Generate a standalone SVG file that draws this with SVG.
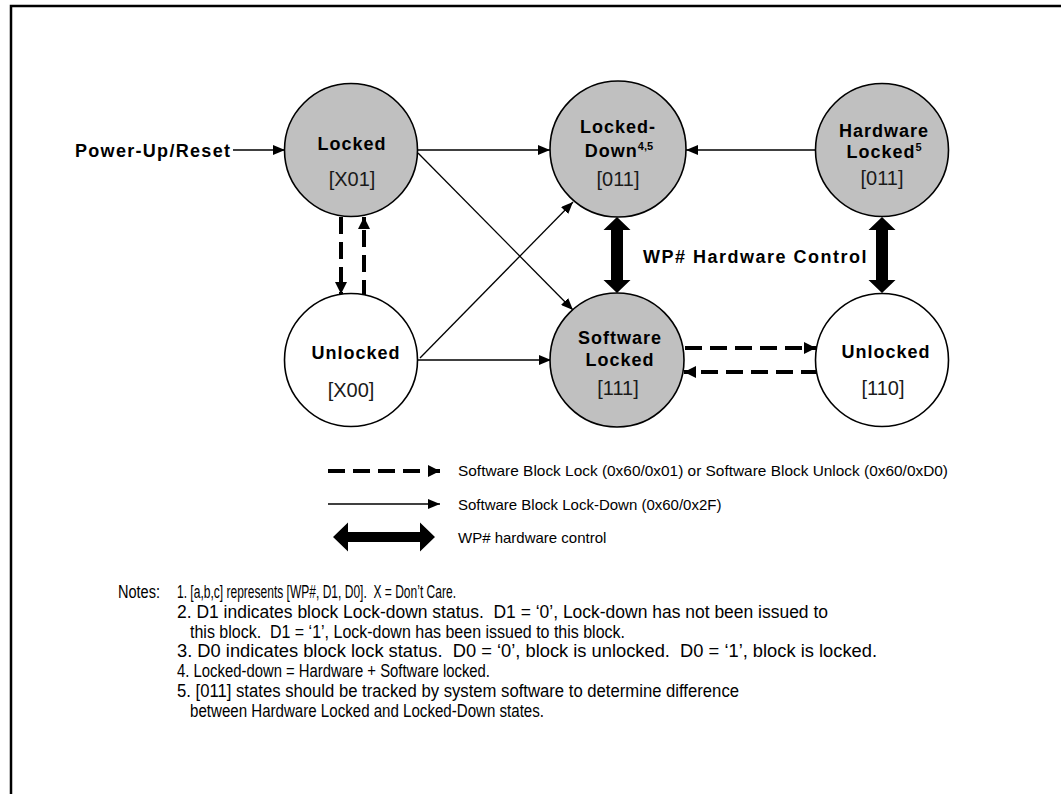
<svg xmlns="http://www.w3.org/2000/svg" width="1061" height="794" viewBox="0 0 1061 794">
<defs>
<style>
.node{stroke:#000;stroke-width:1.6}
.gray{fill:#c0c0c0}
.white{fill:#fff}
.b{font-family:"Liberation Sans",Arial,sans-serif;font-weight:bold;font-size:18px;letter-spacing:1px;fill:#000}
.r{font-family:"Liberation Sans",Arial,sans-serif;font-size:20px;fill:#1a1a1a}
.sup{font-size:11px;letter-spacing:0}
.thin{stroke:#000;stroke-width:1.3;fill:none}
.dash{stroke:#000;stroke-width:4;fill:none;stroke-dasharray:17 8}
.lg{font-family:"Liberation Sans",Arial,sans-serif;font-size:15px;fill:#000}
.nt{font-family:"Liberation Sans",Arial,sans-serif;font-size:17.5px;fill:#000;white-space:pre}
</style>
<marker id="ah" viewBox="0 0 12 10" refX="12" refY="5" markerWidth="12" markerHeight="10" markerUnits="userSpaceOnUse" orient="auto">
<path d="M0,0 L12,5 L0,10 Z" fill="#000"/>
</marker>
<marker id="ahd" viewBox="0 0 12 12" refX="12" refY="6" markerWidth="12" markerHeight="12" markerUnits="userSpaceOnUse" orient="auto">
<path d="M0,0 L12,6 L0,12 Z" fill="#000"/>
</marker>
</defs>
<rect width="1061" height="794" fill="#fff"/>
<path d="M11,794 L11,6 L1061,6" fill="none" stroke="#000" stroke-width="2.5"/>

<g id="connectors">
<line class="thin" x1="233" y1="150" x2="285" y2="150" marker-end="url(#ah)"/>
<line class="thin" x1="418" y1="150" x2="550" y2="150" marker-end="url(#ah)"/>
<line class="thin" x1="418" y1="153" x2="573" y2="310" marker-end="url(#ah)"/>
<line class="thin" x1="420" y1="358" x2="573" y2="202" marker-end="url(#ah)"/>
<line class="thin" x1="418" y1="360" x2="551" y2="360" marker-end="url(#ah)"/>
<line class="thin" x1="816" y1="150" x2="686" y2="150" marker-end="url(#ah)"/>
<line class="dash" x1="341" y1="217" x2="341" y2="294" marker-end="url(#ahd)"/>
<line class="dash" x1="364" y1="297" x2="364" y2="217" marker-end="url(#ahd)"/>
<line class="dash" x1="685" y1="348" x2="816" y2="348" marker-end="url(#ahd)"/>
<line class="dash" x1="818" y1="372" x2="684" y2="372" marker-end="url(#ahd)"/>
<polygon points="617,217 630.5,230 623,230 623,280 630.5,280 617,293 603.5,280 611,280 611,230 603.5,230" fill="#000"/>
<polygon points="882,217 895.5,230 888,230 888,280 895.5,280 882,293 868.5,280 876,280 876,230 868.5,230" fill="#000"/>
</g>

<text class="b" x="75" y="157" style="letter-spacing:1.3px">Power-Up/Reset</text>
<text class="b" x="643" y="263" style="letter-spacing:1.5px">WP# Hardware Control</text>

<g id="locked">
<circle class="node gray" cx="351" cy="150" r="66.5"/>
<text class="b" x="352" y="150" text-anchor="middle">Locked</text>
<text class="r" x="352" y="186" text-anchor="middle">[X01]</text>
</g>
<g id="unlocked-x00">
<circle class="node white" cx="351" cy="360" r="66.5"/>
<text class="b" x="356" y="359" text-anchor="middle">Unlocked</text>
<text class="r" x="351" y="397" text-anchor="middle">[X00]</text>
</g>
<g id="locked-down">
<circle class="node gray" cx="618" cy="149" r="68"/>
<text class="b" x="618" y="133" text-anchor="middle">Locked-</text>
<text class="b" x="619" y="157" text-anchor="middle">Down<tspan class="sup" dy="-7">4,5</tspan></text>
<text class="r" x="618" y="186" text-anchor="middle">[011]</text>
</g>
<g id="software-locked">
<circle class="node gray" cx="617" cy="360" r="67"/>
<text class="b" x="620" y="344" text-anchor="middle">Software</text>
<text class="b" x="620" y="366" text-anchor="middle">Locked</text>
<text class="r" x="618" y="395" text-anchor="middle">[111]</text>
</g>
<g id="hardware-locked">
<circle class="node gray" cx="882" cy="150" r="66.5"/>
<text class="b" x="884" y="137" text-anchor="middle">Hardware</text>
<text class="b" x="884" y="158" text-anchor="middle">Locked<tspan class="sup" dy="-7">5</tspan></text>
<text class="r" x="882" y="185" text-anchor="middle">[011]</text>
</g>
<g id="unlocked-110">
<circle class="node white" cx="882" cy="360" r="66.5"/>
<text class="b" x="886" y="358" text-anchor="middle">Unlocked</text>
<text class="r" x="883" y="395" text-anchor="middle">[110]</text>
</g>

<g id="legend">
<line class="dash" x1="328" y1="471" x2="440" y2="471" marker-end="url(#ahd)"/>
<line class="thin" x1="328" y1="504" x2="440" y2="504" marker-end="url(#ah)"/>
<polygon points="333,537 348,522.5 348,532 420,532 420,522.5 435,537 420,551.5 420,542 348,542 348,551.5" fill="#000"/>
<text class="lg" x="458" y="476" textLength="490" lengthAdjust="spacingAndGlyphs">Software Block Lock (0x60/0x01) or Software Block Unlock (0x60/0xD0)</text>
<text class="lg" x="458" y="510">Software Block Lock-Down (0x60/0x2F)</text>
<text class="lg" x="458" y="543">WP# hardware control</text>
</g>

<g id="notes" xml:space="preserve">
<text class="nt" x="118" y="598" textLength="42" lengthAdjust="spacingAndGlyphs">Notes:</text>
<text class="nt" x="177" y="598" textLength="279" lengthAdjust="spacingAndGlyphs">1. [a,b,c] represents [WP#, D1, D0].  X = Don’t Care.</text>
<text class="nt" x="177" y="618" textLength="651" lengthAdjust="spacingAndGlyphs">2. D1 indicates block Lock-down status.  D1 = ‘0’, Lock-down has not been issued to</text>
<text class="nt" x="190" y="637.5" textLength="435" lengthAdjust="spacingAndGlyphs">this block.  D1 = ‘1’, Lock-down has been issued to this block.</text>
<text class="nt" x="177" y="657" textLength="700" lengthAdjust="spacingAndGlyphs">3. D0 indicates block lock status.  D0 = ‘0’, block is unlocked.  D0 = ‘1’, block is locked.</text>
<text class="nt" x="177" y="677" textLength="313" lengthAdjust="spacingAndGlyphs">4. Locked-down = Hardware + Software locked.</text>
<text class="nt" x="177" y="697" textLength="562" lengthAdjust="spacingAndGlyphs">5. [011] states should be tracked by system software to determine difference</text>
<text class="nt" x="190" y="716.5" textLength="354" lengthAdjust="spacingAndGlyphs">between Hardware Locked and Locked-Down states.</text>
</g>
</svg>
